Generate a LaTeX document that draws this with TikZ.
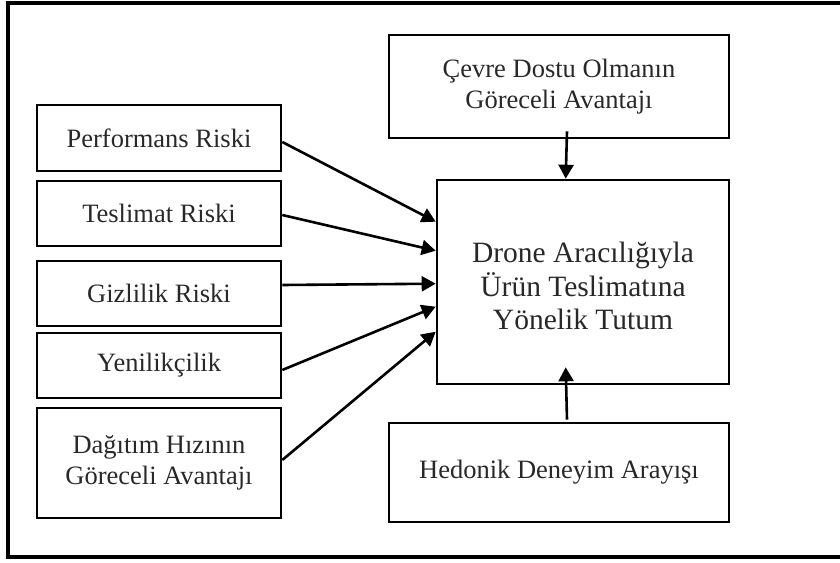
\documentclass[tikz,border=0pt]{standalone}
\usepackage{fontspec}
\setmainfont{Liberation Serif}
\usetikzlibrary{arrows.meta,calc}
\definecolor{txt}{RGB}{40,40,40}
\begin{document}
\begin{tikzpicture}[x=1pt,y=-1pt,
  box/.style={draw=black,line width=2.6pt,align=center,inner sep=0pt,text=txt,
    font=\fontsize{26.5}{31}\selectfont},
  bigbox/.style={box,font=\fontsize{29.5}{33.5}\selectfont},
  arr/.style={line width=2.6pt,-{Triangle[length=14pt,width=15pt]}}]
\useasboundingbox (0,0) rectangle (840,562);
\clip (0,0) rectangle (840,562);
\draw[line width=3.2pt] (8,3) rectangle (860,557);
\node[box,minimum width=244pt,minimum height=66pt] (perf) at (159,138) {Performans Riski};
\node[box,minimum width=244pt,minimum height=65pt] (tes) at (159,213.5) {Teslimat Riski};
\node[box,minimum width=244pt,minimum height=65pt] (giz) at (159,293.5) {Gizlilik Riski};
\node[box,minimum width=244pt,minimum height=65pt] (yen) at (159,365.5) {Yenilikçilik};
\node[box,minimum width=244pt,minimum height=110pt] (dag) at (159,463) {Dağıtım Hızının\\Göreceli Avantajı};
\node[box,minimum width=340pt,minimum height=103pt] (cev) at (559,86.5) {Çevre Dostu Olmanın\\Göreceli Avantajı};
\node[bigbox,minimum width=292pt,minimum height=204pt] (dro) at (583,282) {};
\node[text=txt,font=\fontsize{29.5}{33.5}\selectfont,align=center,inner sep=0pt] (drot) at ($(dro.center)+(0,4)$) {Drone Aracılığıyla\\Ürün Teslimatına\\Yönelik Tutum};
\node[box,minimum width=340pt,minimum height=99pt] (hed) at (559,472.5) {Hedonik Deneyim Arayışı};
\coordinate (dtop) at ($(dro.north west)+(130,0)$);
\draw[arr] ($(cev.south)+(8,-8)$) -- (dtop);
\draw[arr] ($(hed.north)+(8,-2)$) -- ($(dro.south west)+(130,-18)$);
\draw[arr] ($(perf.east)+(0,4)$) -- ($(dro.north west)+(0,43)$);
\draw[arr] ($(tes.east)+(0,1.5)$) -- ($(dro.north west)+(0,72)$);
\draw[arr] ($(giz.east)+(0,-8.5)$) -- ($(dro.north west)+(0,105)$);
\draw[arr] ($(yen.east)+(0,4.5)$) -- ($(dro.north west)+(0,128)$);
\draw[arr] ($(dag.east)+(0,-3)$) -- ($(dro.north west)+(0,153)$);
\end{tikzpicture}
\end{document}
